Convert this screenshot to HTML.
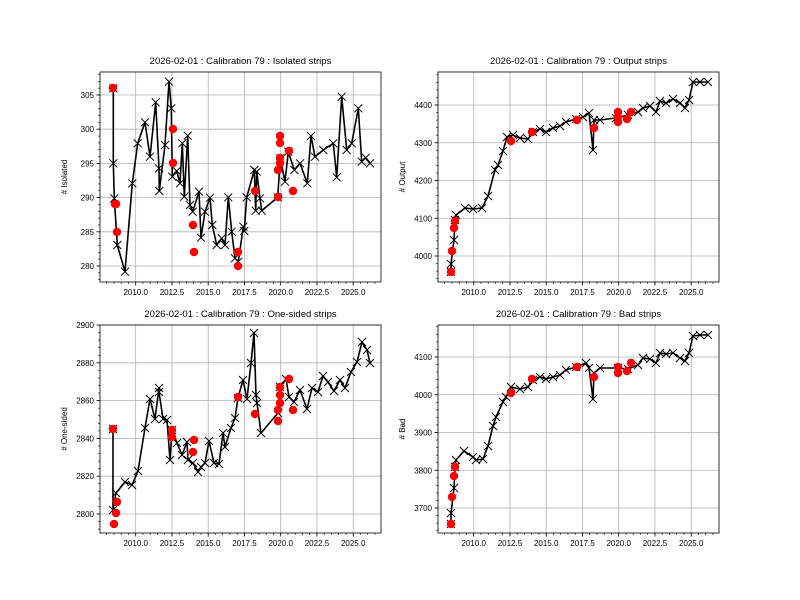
<!DOCTYPE html>
<html><head><meta charset="utf-8"><style>
html,body{margin:0;padding:0;background:#fff;}
svg{display:block;font-family:"Liberation Sans","DejaVu Sans",sans-serif;}
</style></head><body>
<svg id="s" width="800" height="600" xmlns="http://www.w3.org/2000/svg"></svg>
<script>
const S=document.getElementById('s');let h='';
const panels=[
{x0:100,y0:72,x1:381,y1:282,title:'2026-02-01 : Calibration 79 : Isolated strips',ylab:'# Isolated',
 yt:[[305,95],[300,129.2],[295,163.4],[290,197.6],[285,231.8],[280,266]],
 line:[[113.3,88.3],[113.3,163.3],[114.3,198.3],[117.3,245],[125,271.7],[132.3,183.3],[137.7,143.3],[145,122.3],[150,156.7],[155.7,102.3],[159,168.3],[159.3,191],[165,145],[169,81.7],[171.3,108.3],[172.3,176.7],[176.7,171],[180,183.3],[182.3,143.3],[184.3,196.7],[187.7,135.7],[190,205],[192.7,211.7],[199,191.7],[201,237.7],[205,211.7],[210,197.7],[212.3,225],[216.7,245],[221.7,238.3],[225,245],[228.3,197.3],[231.7,231.7],[235,258.3],[238.3,261.7],[243.3,226.7],[244.3,231],[246.7,197.3],[254.3,170],[255.7,210.7],[256.7,171.7],[260,198.3],[261.7,210.7],[277.7,197.3],[280.3,158.3],[285,181.7],[288.3,151.7],[294.3,170],[300,163.3],[307.3,183.3],[311,136],[315,156.7],[323.3,150],[333.3,143.3],[336.7,177.3],[341.7,96.7],[346.7,150],[351.7,143.3],[358.3,108.3],[361.7,161.7],[365.7,157.7],[370,163.3]],
 red:[[113,88],[115,204],[116,204],[117,232],[173,129],[173,163],[193,225],[194,252],[238,252],[238,266],[255,191],[280,136],[280,143],[280,158],[280,163],[278,170],[278,197],[289,151],[293,191]]},
{x0:438,y0:72,x1:719,y1:282,title:'2026-02-01 : Calibration 79 : Output strips',ylab:'# Output',
 yt:[[4400,105],[4300,142.75],[4200,180.5],[4100,218.25],[4000,256]],
 line:[[451,272],[451,264],[454,240],[455,220],[456,215],[465,208],[473,209],[482,208],[488,196],[495,170],[498,165],[503,151],[507,137],[513,135],[520,138],[528,139],[533,132],[540,129],[546,132],[553,128],[560,126],[566,122],[576,119],[583,117],[589,113],[593,150],[594,120],[600,120],[616,118],[628,115],[638,112],[643,108],[650,106],[656,112],[660,101],[666,103],[673,99],[680,103],[685,108],[689,100],[693,82],[700,82],[708,82]],
 red:[[451,272],[452,251],[454,228],[455,221],[511,141],[532,132],[577,120],[594,128],[618,112],[618,117],[618,122],[627,119],[631,112]]},
{x0:100,y0:325,x1:381,y1:533,title:'2026-02-01 : Calibration 79 : One-sided strips',ylab:'# One-sided',
 yt:[[2900,325],[2880,362.8],[2860,400.6],[2840,438.4],[2820,476.2],[2800,514]],
 line:[[113,429],[113,510],[116,493],[125,482],[132,485],[138,471],[145,428],[150,399],[155,419],[159,388],[159,392],[163,419],[167,420],[170,460],[172,430],[177,443],[182,455],[187,442],[188,460],[193,463],[198,472],[201,467],[205,463],[209,441],[214,463],[219,464],[223,433],[225,447],[231,428],[235,418],[238,398],[243,380],[247,399],[251,363],[254,333],[256,395],[257,403],[261,433],[278,413],[280,387],[286,379],[289,397],[294,402],[300,390],[307,409],[312,388],[318,392],[323,376],[328,382],[334,391],[340,380],[345,388],[351,372],[357,362],[362,342],[367,350],[370,363]],
 red:[[113,429],[117,502],[116,513],[114,524],[172,430],[172,437],[194,440],[193,452],[238,397],[255,414],[278,421],[278,410],[280,387],[280,395],[280,403],[289,379],[293,410]]},
{x0:438,y0:325,x1:719,y1:533,title:'2026-02-01 : Calibration 79 : Bad strips',ylab:'# Bad',
 yt:[[4100,357],[4000,394.75],[3900,432.5],[3800,470.25],[3700,508]],
 line:[[451,524],[451,513],[454,488],[455,467],[456,460],[464,451],[473,457],[476,460],[483,459],[488,446],[493,426],[496,417],[503,402],[506,397],[511,387],[520,389],[528,387],[533,380],[540,377],[546,379],[553,377],[560,375],[566,370],[576,367],[586,363],[589,368],[593,399],[594,373],[600,368],[618,368],[628,369],[638,365],[643,358],[650,359],[656,363],[660,353],[666,354],[673,353],[680,358],[685,361],[689,353],[693,336],[700,335],[708,335]],
 red:[[451,524],[452,497],[454,476],[455,467],[511,393],[532,379],[577,367],[594,377],[618,367],[618,373],[627,371],[631,363]]}
];
const xl=['2010.0','2012.5','2015.0','2017.5','2020.0','2022.5','2025.0'];
const XS=36.25;
for(const p of panels){
  const dx=p.x0-100;
  h+=`<text x="${(p.x0+p.x1)/2}" y="${p.y0-8}" font-size="9.5" text-anchor="middle">${p.title}</text>`;
  for(let i=0;i<7;i++){const x=135.7+XS*i+dx;
    h+=`<line x1="${x}" y1="${p.y0}" x2="${x}" y2="${p.y1}" stroke="#b0b0b0" stroke-width="0.8"/>`;
    h+=`<line x1="${x}" y1="${p.y1}" x2="${x}" y2="${p.y1+3.5}" stroke="#000" stroke-width="0.8"/>`;
    h+=`<text x="${x}" y="${p.y1+13}" font-size="8" text-anchor="middle">${xl[i]}</text>`;}
  for(let x=135.7+dx-XS;x<p.x1;x+=XS/5){if(x>p.x0)h+=`<line x1="${x}" y1="${p.y1}" x2="${x}" y2="${p.y1+2}" stroke="#000" stroke-width="0.6"/>`;}
  const st=(p.yt[1][1]-p.yt[0][1])/5;
  for(let y=p.yt[0][1]-5*st;y<p.y1;y+=st){if(y>p.y0)h+=`<line x1="${p.x0-2}" y1="${y}" x2="${p.x0}" y2="${y}" stroke="#000" stroke-width="0.6"/>`;}
  for(const [v,y] of p.yt){
    h+=`<line x1="${p.x0}" y1="${y}" x2="${p.x1}" y2="${y}" stroke="#b0b0b0" stroke-width="0.8"/>`;
    h+=`<line x1="${p.x0-3.5}" y1="${y}" x2="${p.x0}" y2="${y}" stroke="#000" stroke-width="0.8"/>`;
    h+=`<text x="${p.x0-6}" y="${y+3}" font-size="8" text-anchor="end">${v}</text>`;}
  h+=`<text transform="translate(${p.x0-33},${(p.y0+p.y1)/2}) rotate(-90)" font-size="8" text-anchor="middle">${p.ylab}</text>`;
  h+=`<polyline points="${p.line.map(a=>a.join(',')).join(' ')}" fill="none" stroke="#000" stroke-width="1.6" stroke-linejoin="round"/>`;
  for(const [x,y] of p.line){h+=`<path d="M${x-4},${y-4}L${x+4},${y+4}M${x-4},${y+4}L${x+4},${y-4}" stroke="#000" stroke-width="1"/>`;}
  for(const [x,y] of p.red){h+=`<circle cx="${x}" cy="${y}" r="4.2" fill="#ff0000"/>`;}
  h+=`<rect x="${p.x0}" y="${p.y0}" width="${p.x1-p.x0}" height="${p.y1-p.y0}" fill="none" stroke="#000" stroke-width="0.8"/>`;
}
S.innerHTML=h;
</script>
</body></html>
